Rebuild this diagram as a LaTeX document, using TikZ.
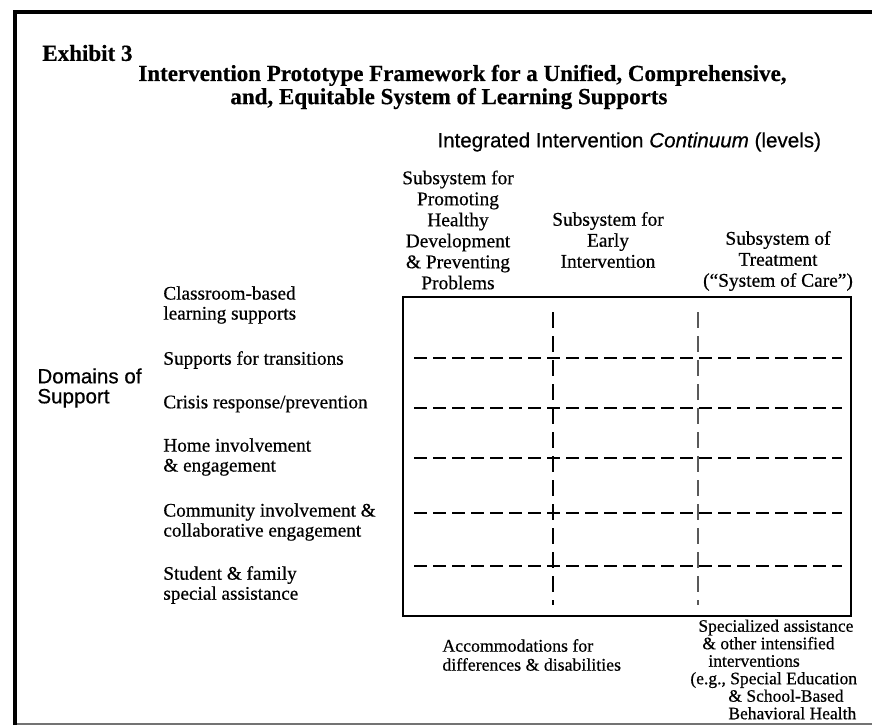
\documentclass[tikz,border=0pt]{standalone}
\usepackage{fontspec}
\setmainfont{Liberation Serif}[FakeBold=0.5]
\newfontfamily\arialf{Liberation Sans}[FakeBold=0.5]
\begin{document}
\begin{tikzpicture}[x=0.5pt,y=-0.5pt,
  lbl/.style={inner sep=0pt, anchor=west, align=left, font=\fontsize{9.6}{10}\selectfont},
  hdr/.style={inner sep=0pt, anchor=center, align=center, font=\fontsize{9.7}{10.5}\selectfont},
  sanslbl/.style={inner sep=0pt, anchor=west, align=left, font=\arialf\fontsize{10.3}{10}\selectfont},
  ttl/.style={inner sep=0pt, anchor=west, align=left, font=\bfseries\fontsize{11.5}{10.5}\selectfont},
  hdash/.style={line width=1pt, dash pattern=on 6.5pt off 3pt},
  vdash/.style={dash pattern=on 8pt off 4pt}]
\useasboundingbox (0,0) rectangle (872,727);
\fill[white] (0,0) rectangle (872,727);
% outer frame
\draw[line width=1pt, black!55] (15,724) -- (880,724);
\draw[line width=1.6pt] (15,725) -- (15,12) -- (880,12);
% grid box
\draw[line width=1.2pt] (403,297) rectangle (851,616);
\foreach \yy in {358,408,458,566} \draw[hdash] (414,\yy) -- (842,\yy);
\draw[hdash, line width=0.6pt] (414,513) -- (842,513);
\draw[vdash, line width=1.2pt] (553,312) -- (553,605);
\draw[vdash, line width=0.6pt, black!65] (698,312) -- (698,605);
% titles
\node[ttl] (ex) at (42,53) {Exhibit 3};
\node[ttl] (title) at (138,87) {Intervention Prototype Framework for a Unified, Comprehensive,\\\hspace*{46pt}and, Equitable System of Learning Supports};
\node[sanslbl] (cont) at (437,142) {Integrated Intervention \textit{Continuum} (levels)};
\node[sanslbl] (dom) at (37,388) {Domains of\\Support};
% column headers
\node[hdr] (h1) at (458,230) {Subsystem for\\Promoting\\Healthy\\Development\\\& Preventing\\Problems};
\node[hdr] (h2) at (608,240) {Subsystem for\\Early\\Intervention};
\node[hdr] (h3) at (778,261) {Subsystem of\\Treatment\\(``System of Care'')};
% row labels
\node[lbl] (d1) at (163,305) {Classroom-based\\learning supports};
\node[lbl] (d2) at (163,360) {Supports for transitions};
\node[lbl] (d3) at (163,404) {Crisis response/prevention};
\node[lbl] (d4) at (163,457) {Home involvement\\\& engagement};
\node[lbl] (d5) at (163,522) {Community involvement \&\\collaborative engagement};
\node[lbl] (d6) at (163,585) {Student \& family\\special assistance};
% bottom labels
\node[lbl, font=\fontsize{8.9}{9.5}\selectfont] (acc) at (442,655) {Accommodations for\\differences \& disabilities};
\node[lbl, font=\fontsize{8.75}{8.75}\selectfont] (spec) at (690,669.5) {\hspace*{4pt}Specialized assistance\\\hspace*{6pt}\& other intensified\\\hspace*{9pt}interventions\\(e.g., Special Education\\\hspace*{19pt}\& School-Based\\\hspace*{19pt}Behavioral Health};
\end{tikzpicture}
\end{document}
